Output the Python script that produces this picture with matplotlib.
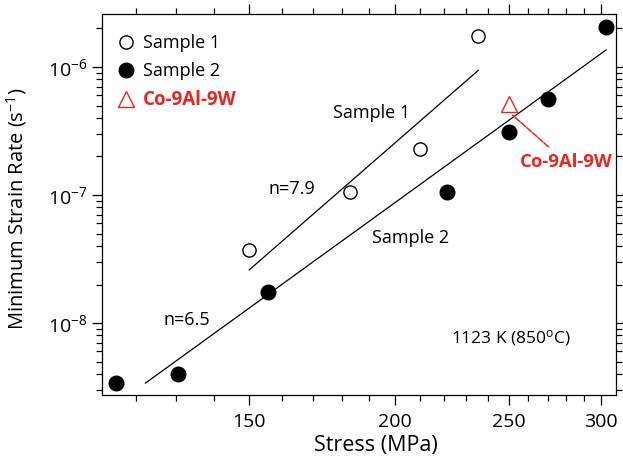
import matplotlib
matplotlib.use('Agg')
import matplotlib.pyplot as plt
from matplotlib.lines import Line2D
from matplotlib.ticker import LogLocator, FixedLocator, NullFormatter

plt.rcParams['font.family'] = ['Open Sans', 'DejaVu Sans']
plt.rcParams['mathtext.default'] = 'regular'

# data
s1_stress = [150, 183, 210, 235.5]
s1_rate = [3.7e-8, 1.05e-7, 2.3e-7, 1.75e-6]
s2_stress = [115.4, 130.4, 155.7, 221.5, 250, 270, 303]
s2_rate = [3.4e-9, 4.0e-9, 1.75e-8, 1.05e-7, 3.1e-7, 5.6e-7, 2.05e-6]
ref_stress = [250]
ref_rate = [5.1e-7]

# power-law fit lines (end points)
fit1_stress = [150, 235.5]
fit1_rate = [2.6e-8, 9.4e-7]
fit2_stress = [122.3, 303]
fit2_rate = [3.4e-9, 1.36e-6]

red = '#e8251f'

fig = plt.figure(figsize=(6.23, 4.61), dpi=100)
ax = fig.add_axes([0.164, 0.143, 0.825, 0.827])
ax.set_xscale('log')
ax.set_yscale('log')
ax.set_xlim(112.3, 309)
ax.set_ylim(2.74e-9, 2.6e-6)

ax.plot(fit1_stress, fit1_rate, color='black', lw=0.9)
ax.plot(fit2_stress, fit2_rate, color='black', lw=0.9)
ax.plot(s1_stress, s1_rate, 'o', ms=9.5, mfc='white', mec='black', mew=1.0)
ax.plot(s2_stress, s2_rate, 'o', ms=10.5, mfc='black', mec='black')
ax.plot(ref_stress, ref_rate, '^', ms=11, mfc='none', mec=red, mew=1.0)

# x ticks
ax.xaxis.set_major_locator(FixedLocator([150, 200, 250, 300]))
ax.xaxis.set_minor_locator(FixedLocator([120, 130, 140, 160, 170, 180, 190, 210, 220, 230, 240, 260, 270, 280, 290]))
ax.xaxis.set_minor_formatter(NullFormatter())
ax.set_xticklabels(['150', '200', '250', '300'])
ax.yaxis.set_major_locator(LogLocator(base=10, numticks=10))
ax.yaxis.set_minor_locator(LogLocator(base=10, subs=range(2, 10), numticks=20))
ax.yaxis.set_minor_formatter(NullFormatter())

ax.tick_params(which='both', direction='out', top=True, right=True, labelsize=14)
ax.tick_params(axis='x', which='major', pad=6)
ax.tick_params(which='major', length=7, width=0.9)
ax.tick_params(which='minor', length=4, width=0.9)
for sp in ax.spines.values():
    sp.set_linewidth(0.9)

ax.set_xlabel('Stress (MPa)', fontsize=15.5)
ax.xaxis.set_label_coords(0.533, -0.105)
ax.set_ylabel('Minimum Strain Rate (s$^{-1}$)', fontsize=14.5)
ax.yaxis.set_label_coords(-0.142, 0.49)

# annotations
ax.text(191, 4.4e-7, 'Sample 1', fontsize=13, ha='center', va='center')
ax.text(163.3, 1.11e-7, 'n=7.9', fontsize=13, ha='center', va='center')
ax.text(206, 4.6e-8, 'Sample 2', fontsize=13, ha='center', va='center')
ax.text(132.7, 1.05e-8, 'n=6.5', fontsize=13, ha='center', va='center')
ax.text(0.796, 0.15, '1123 K (850$^{o}$C)', transform=ax.transAxes, fontsize=12.5, ha='center', va='center')
ax.annotate('Co-9Al-9W', xy=(252, 4.2e-7), xytext=(280, 1.8e-7),
            color=red, fontsize=13.3, fontweight='bold', ha='center', va='center',
            arrowprops=dict(arrowstyle='-', color=red, lw=1.1, linestyle=(0, (4, 1)),
                            shrinkA=4, shrinkB=0))

handles = [Line2D([], [], marker='o', ls='none', ms=9.5, mfc='white', mec='black'),
           Line2D([], [], marker='o', ls='none', ms=10.5, mfc='black', mec='black'),
           Line2D([], [], marker='^', ls='none', ms=11, mfc='none', mec=red)]
leg = ax.legend(handles, ['Sample 1', 'Sample 2', 'Co-9Al-9W'], loc='upper left',
                bbox_to_anchor=(0.0, 0.979), frameon=False, fontsize=13,
                handletextpad=0.35, labelspacing=0.55, borderaxespad=0.3,
                handlelength=1.2)
texts = leg.get_texts()
texts[2].set_color(red)
texts[2].set_fontweight('bold')
texts[2].set_fontsize(13.5)

fig.savefig('out.png', dpi=100)
